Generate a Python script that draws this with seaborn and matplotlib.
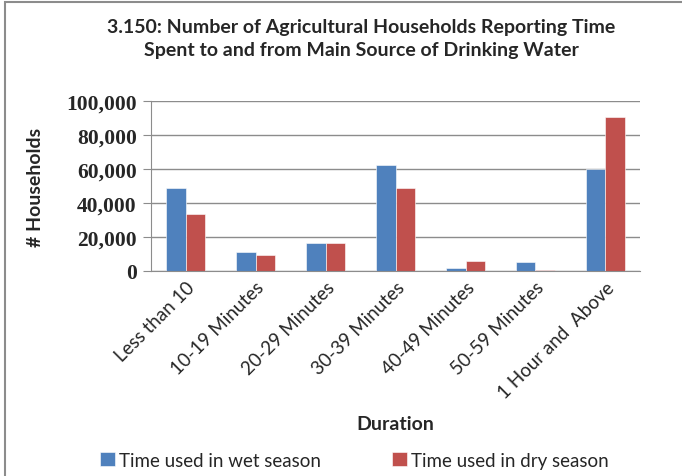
import numpy as np
import pandas as pd
import matplotlib
matplotlib.use("Agg")
import matplotlib.pyplot as plt
import seaborn as sns
from matplotlib.patches import Rectangle
from matplotlib.ticker import FuncFormatter

durations = ["Less than 10", "10-19 Minutes", "20-29 Minutes", "30-39 Minutes",
             "40-49 Minutes", "50-59 Minutes", "1 Hour and  Above"]
wet = [49000, 11400, 16600, 62500, 1600, 5300, 60000]
dry = [33300, 9200, 16600, 49000, 6100, 800, 90400]
series = ["Time used in wet season", "Time used in dry season"]
colors = ["#4F81BD", "#C0504D"]

df = pd.DataFrame({
    "Duration": durations * 2,
    "Households": wet + dry,
    "Season": [series[0]] * len(wet) + [series[1]] * len(dry),
})

sns.set_style("white")
plt.rcParams["font.family"] = ["Lato", "DejaVu Sans"]

fig = plt.figure(figsize=(6.82, 4.77), dpi=100)
ax = fig.add_axes([0.221, 0.430, 0.718, 0.356])

sns.barplot(data=df, x="Duration", y="Households", hue="Season",
            palette=colors, width=0.56, ax=ax, saturation=1,
            edgecolor="white", linewidth=0.4)

ax.set_ylim(0, 100000)
ax.set_yticks(np.arange(0, 100001, 20000))
ax.yaxis.set_major_formatter(FuncFormatter(lambda v, p: f"{int(v):,}"))
ax.grid(axis="y", color="#8c8c8c", linewidth=1)
ax.set_axisbelow(True)
for s in ["top", "right"]:
    ax.spines[s].set_visible(False)
ax.spines["left"].set_color("#8c8c8c")
ax.spines["bottom"].set_color("#8c8c8c")
ax.tick_params(axis="y", left=True, length=6, color="#8c8c8c", pad=4)
ax.tick_params(axis="x", bottom=False, labelsize=13.5, pad=2)
for lbl in ax.get_yticklabels():
    lbl.set_fontweight("bold")
    lbl.set_fontsize(15.5)
    lbl.set_family(["Liberation Serif", "DejaVu Serif"])
plt.setp(ax.get_xticklabels(), rotation=45, ha="right", rotation_mode="anchor")

ax.set_ylabel("# Households", fontsize=14, fontweight="bold", labelpad=16)
ax.set_xlabel("Duration", fontsize=14, fontweight="bold", labelpad=10)
fig.suptitle("3.150: Number of Agricultural Households Reporting Time\nSpent to and from Main Source of Drinking Water",
             x=0.53, y=0.96, fontsize=14, fontweight="bold", linespacing=1.45)

ax.legend_.remove()
handles, labels = ax.get_legend_handles_labels()
fig.legend(handles, labels, loc="center", bbox_to_anchor=(0.52, 0.033), ncol=2,
           frameon=False, fontsize=13.5, handlelength=0.8, handleheight=0.8,
           handletextpad=0.2, columnspacing=3.8)

fig.patches.append(Rectangle((0.008, -0.01), 1.5, 1.004, transform=fig.transFigure,
                             fill=False, edgecolor="#8c8c8c", linewidth=1.5))

fig.savefig("out.png", dpi=100)
